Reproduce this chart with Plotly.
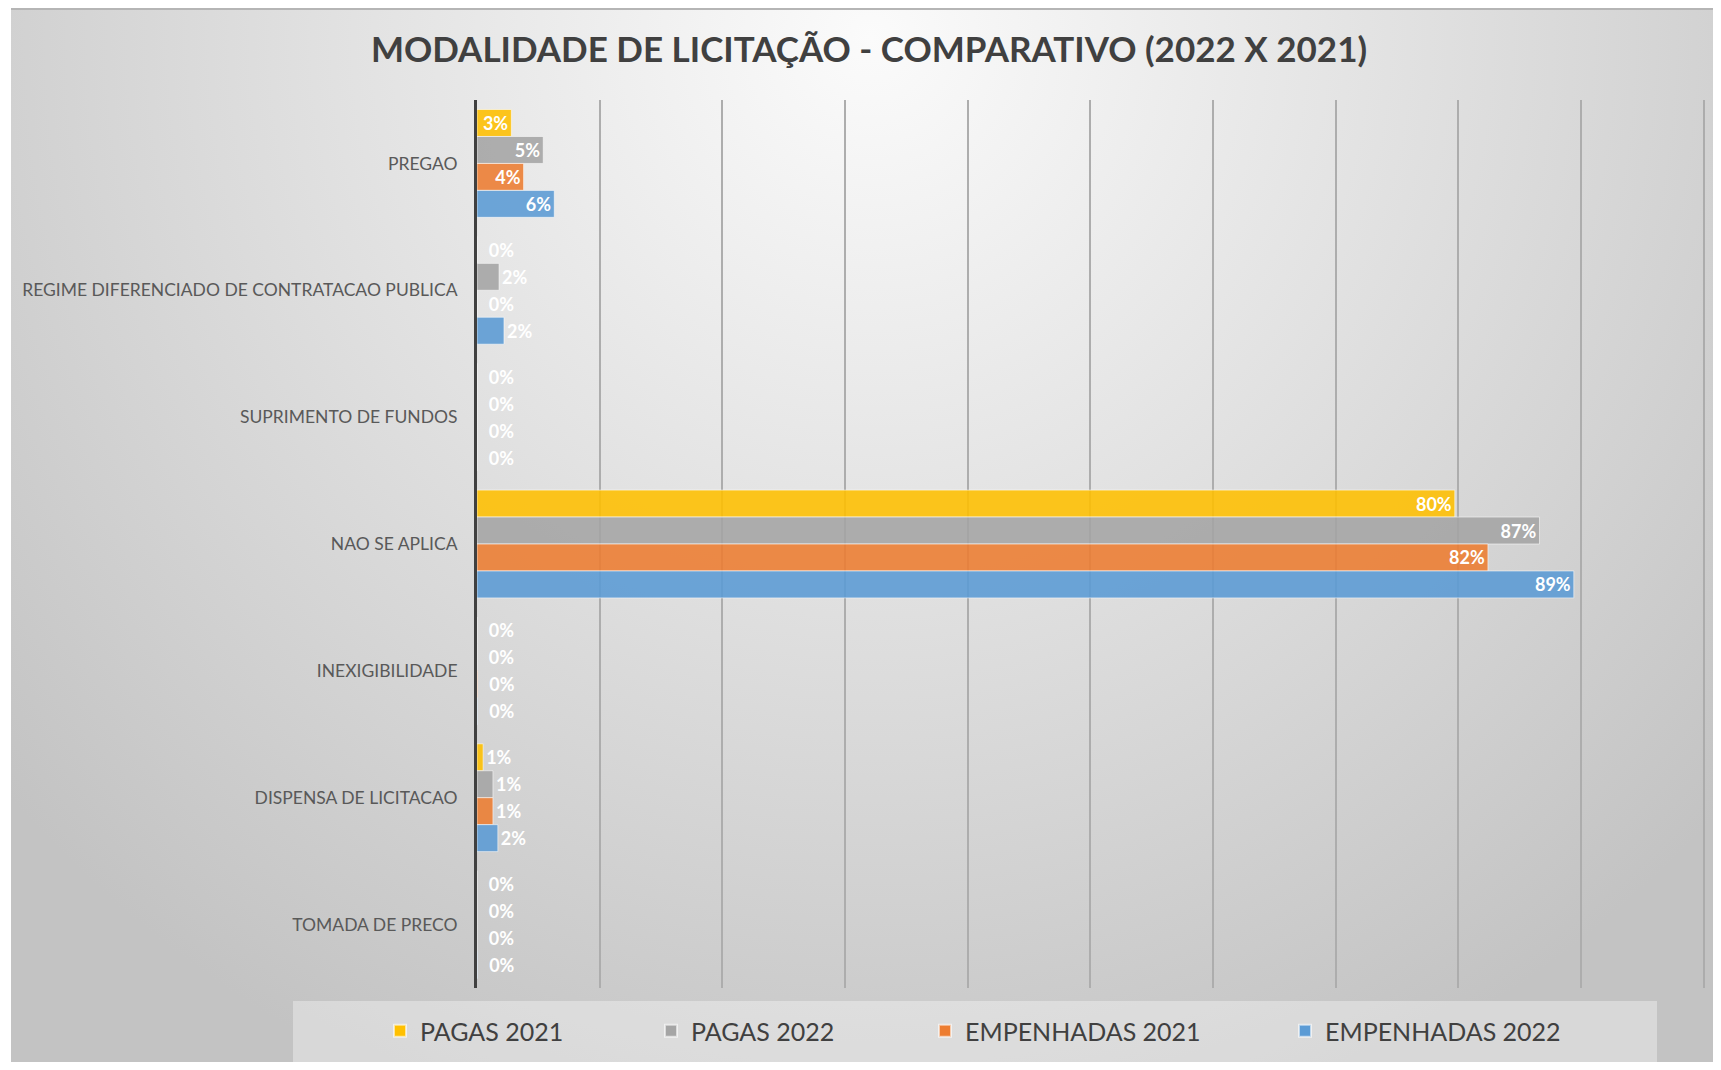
import plotly.graph_objects as go

categories = ["PREGAO", "REGIME DIFERENCIADO DE CONTRATACAO PUBLICA", "SUPRIMENTO DE FUNDOS",
              "NAO SE APLICA", "INEXIGIBILIDADE", "DISPENSA DE LICITACAO", "TOMADA DE PRECO"]
pagas_2021 = [2.8, 0.0, 0.0, 79.7, 0.0, 0.5, 0.0]
pagas_2022 = [5.4, 1.8, 0.0, 86.6, 0.0, 1.3, 0.0]
empenhadas_2021 = [3.8, 0.0, 0.0, 82.4, 0.05, 1.3, 0.0]
empenhadas_2022 = [6.3, 2.2, 0.0, 89.4, 0.03, 1.7, 0.03]

series_names = ["PAGAS 2021", "PAGAS 2022", "EMPENHADAS 2021", "EMPENHADAS 2022"]
series_values = [pagas_2021, pagas_2022, empenhadas_2021, empenhadas_2022]
series_colors = ["#FFC000", "#A5A5A5", "#ED7D31", "#5B9BD5"]

# page body has an 8px margin on each side; keep the figure inside the viewport
OFF = 8
W, H = 1721 - 2 * OFF, 1070 - 2 * OFF
ML, MT = 477 - OFF, 100 - OFF
MB = H - (988 - OFF)
X_MAX = 100.5
PW = round(1227 * X_MAX / 100)
MR = W - ML - PW
PH = H - MT - MB
GRID_COLOR = "#adadad"


def px_x(p):
    return (p - OFF - ML) / PW


def px_y(p):
    return (H - MB - (p - OFF)) / PH


legend_ids = ["legend", "legend2", "legend3", "legend4"]
legend_marker_x = [400, 671, 945, 1305]

NB = "\u00a0"
fig = go.Figure()
for name, vals, col, lid in zip(series_names, series_values, series_colors, legend_ids):
    pos = ["inside" if v >= 2.5 else "outside" for v in vals]
    tmpl = ["%{x:.0f}%" if v >= 0.25 else NB + NB + "%{x:.0f}%" for v in vals]
    tf = dict(family="Lato", size=18, color="white", weight="bold")
    fig.add_trace(go.Bar(
        name=name, y=categories, x=vals, orientation="h", legend=lid,
        marker=dict(color=col, opacity=0.88, line=dict(color="rgba(255,255,255,0.6)", width=1)),
        texttemplate=tmpl, textposition=pos, insidetextanchor="end",
        textfont=tf, outsidetextfont=tf, insidetextfont=tf,
        cliponaxis=False, constraintext="none",
    ))

svg = (
    "data:image/svg+xml;utf8,"
    "<svg xmlns='http://www.w3.org/2000/svg' width='1710' height='1064' viewBox='0 0 1710 1064' preserveAspectRatio='none'>"
    "<defs><radialGradient id='g' gradientUnits='userSpaceOnUse' cx='860' cy='30' r='1150'>"
    "<stop offset='0' stop-color='%23fbfbfb'/>"
    "<stop offset='0.45' stop-color='%23e2e2e2'/>"
    "<stop offset='1' stop-color='%23c3c3c3'/>"
    "</radialGradient></defs>"
    "<rect width='1710' height='1064' fill='url(%23g)'/></svg>"
)

legend_layouts = {}
for lid, mx in zip(legend_ids, legend_marker_x):
    legend_layouts[lid] = dict(
        orientation="h", x=px_x(mx - 20), xanchor="left", y=px_y(1031), yanchor="middle",
        bgcolor="rgba(0,0,0,0)", borderwidth=0,
        font=dict(family="Lato", size=25, color="#404040"), itemsizing="constant")

fig.update_layout(
    width=W, height=H,
    margin=dict(l=ML, r=MR, t=MT, b=MB, pad=0),
    paper_bgcolor="white", plot_bgcolor="rgba(0,0,0,0)",
    barmode="group", bargap=0.15, bargroupgap=0,
    title=dict(text="<b>MODALIDADE DE LICITAÇÃO - COMPARATIVO (2022 X 2021)</b>",
               font=dict(family="Lato", size=35, color="#404040"),
               x=(869 - OFF) / W, xanchor="center", y=1 - (50 - OFF) / H, yanchor="middle"),
    xaxis=dict(range=[0, X_MAX], tick0=0, dtick=10, showticklabels=False, showgrid=True,
               gridcolor=GRID_COLOR, gridwidth=1.5, zeroline=False, showline=False, fixedrange=True),
    yaxis=dict(autorange="reversed", showgrid=False, showline=True, linecolor="#404040", linewidth=3,
               ticks="", ticklabelstandoff=13,
               tickfont=dict(family="Lato", size=17.5, color="#595959")),
    showlegend=True,
    images=[dict(source=svg, xref="paper", yref="paper", x=px_x(11), y=px_y(OFF),
                 sizex=(1721 - 11) / PW, sizey=(1070 - OFF) / PH, sizing="stretch", layer="below",
                 xanchor="left", yanchor="top")],
    shapes=[
        dict(type="rect", xref="paper", yref="paper", x0=px_x(293), x1=px_x(1657),
             y0=px_y(1062), y1=px_y(1001), fillcolor="rgba(255,255,255,0.35)", line=dict(width=0),
             layer="below"),
        dict(type="line", xref="paper", yref="paper", x0=px_x(11), x1=px_x(1721),
             y0=px_y(OFF + 1), y1=px_y(OFF + 1), line=dict(color="#b5b5b5", width=2)),
        # 100% gridline
        dict(type="line", xref="paper", yref="paper", x0=px_x(1704), x1=px_x(1704), y0=0, y1=1,
             line=dict(color=GRID_COLOR, width=1.5), layer="above"),
    ],
    **legend_layouts,
)

fig.write_html("out.html")
